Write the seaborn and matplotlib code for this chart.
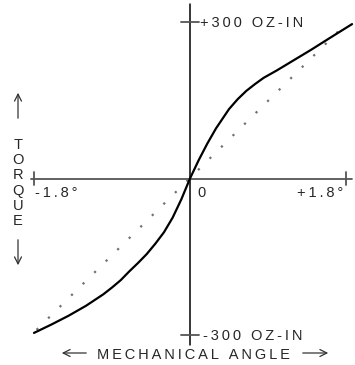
import matplotlib.pyplot as plt
import seaborn as sns
import pandas as pd

# torque curve (deg, oz-in)
angle_deg = [-1.80, -1.60, -1.40, -1.20, -1.00, -0.90, -0.80, -0.70, -0.60, -0.50, -0.40,
             -0.30, -0.20, -0.10, 0.00, 0.10, 0.20, 0.30, 0.45, 0.55, 0.65, 0.75, 0.85,
             1.00, 1.20, 1.40, 1.60, 1.87]
torque_ozin = [-296, -280, -263, -244, -222, -209, -195, -178, -162, -145, -125,
               -103, -75, -40, 0, 35, 67, 96, 133, 152, 168, 181, 193,
               207, 227, 247, 268, 296]

# dotted linear reference
ref_angle = [-1.77, 1.82]
ref_torque = [-290, 300]

x_ticks = [-1.8, 1.8]
x_labels = ["-1.8°", "+1.8°"]
y_ticks = [300, -300]
y_labels = ["+300 OZ-IN", "-300 OZ-IN"]

sns.set_style("white")
plt.rcParams['font.family'] = ['Liberation Sans', 'DejaVu Sans']

W, H = 355, 365
FS = 10.5


def spaced(s):
    return "\u2009".join(s)


def pix(x, y):
    return (x / W, 1 - y / H)


fig = plt.figure(figsize=(W / 100, H / 100), dpi=100)
ax = fig.add_axes([0, 0, 1, 1])
ax.set_xlim(-2.192, 1.904)
ax.set_ylim(-357.5, 342.2)
ax.axis('off')

# axis lines and ticks
ax.plot([0, 0], [334, -319], color='black', lw=1.1)
ax.plot([-1.83, 1.87], [0, 0], color='#555555', lw=1.3)
for t in x_ticks:
    ax.plot([t, t], [-13, 13], color='#555555', lw=1.3)
for t in y_ticks:
    ax.plot([-0.1, 0.1], [t, t], color='#555555', lw=1.3)

df = pd.DataFrame({'angle': angle_deg, 'torque': torque_ozin})
ref = pd.DataFrame({'angle': ref_angle, 'torque': ref_torque})

sns.lineplot(data=ref, x='angle', y='torque', ax=ax, color='#707070', lw=1.6,
             linestyle=(0, (1, 6.3)))
sns.lineplot(data=df, x='angle', y='torque', ax=ax, color='black', lw=1.6, sort=False)

# tick labels
ax.annotate(spaced(x_labels[0]), xy=(x_ticks[0], 0), xytext=(1, -18), textcoords='offset pixels',
            ha='left', va='baseline', fontsize=FS)
ax.annotate(spaced(x_labels[1]), xy=(x_ticks[1], 0), xytext=(-3, -18), textcoords='offset pixels',
            ha='right', va='baseline', fontsize=FS)
ax.annotate("0", xy=(0, 0), xytext=(7, -18), textcoords='offset pixels',
            ha='left', va='baseline', fontsize=FS)
ax.annotate(spaced(y_labels[0]), xy=(0, y_ticks[0]), xytext=(10, -5), textcoords='offset pixels',
            ha='left', va='baseline', fontsize=FS)
ax.annotate(spaced(y_labels[1]), xy=(0, y_ticks[1]), xytext=(13, -5), textcoords='offset pixels',
            ha='left', va='baseline', fontsize=FS)

# axis titles with arrows
fig.text(*pix(193, 359), spaced("MECHANICAL ANGLE"), ha='center', va='baseline', fontsize=FS)
fig.text(*pix(18, 183), "\n".join("TORQUE"), ha='center', va='center', fontsize=FS,
         linespacing=1.12, multialignment='center')

arrow = dict(arrowstyle='->,head_length=0.5,head_width=0.25', color='#333333', lw=0.9)
ax.annotate("", xy=pix(18, 90), xytext=pix(18, 121), xycoords='figure fraction',
            textcoords='figure fraction', arrowprops=arrow)
ax.annotate("", xy=pix(18, 268), xytext=pix(18, 237), xycoords='figure fraction',
            textcoords='figure fraction', arrowprops=arrow)
ax.annotate("", xy=pix(59, 353), xytext=pix(89, 353), xycoords='figure fraction',
            textcoords='figure fraction', arrowprops=arrow)
ax.annotate("", xy=pix(331, 353), xytext=pix(300, 353), xycoords='figure fraction',
            textcoords='figure fraction', arrowprops=arrow)

fig.savefig("out.png", dpi=100, facecolor='white')
